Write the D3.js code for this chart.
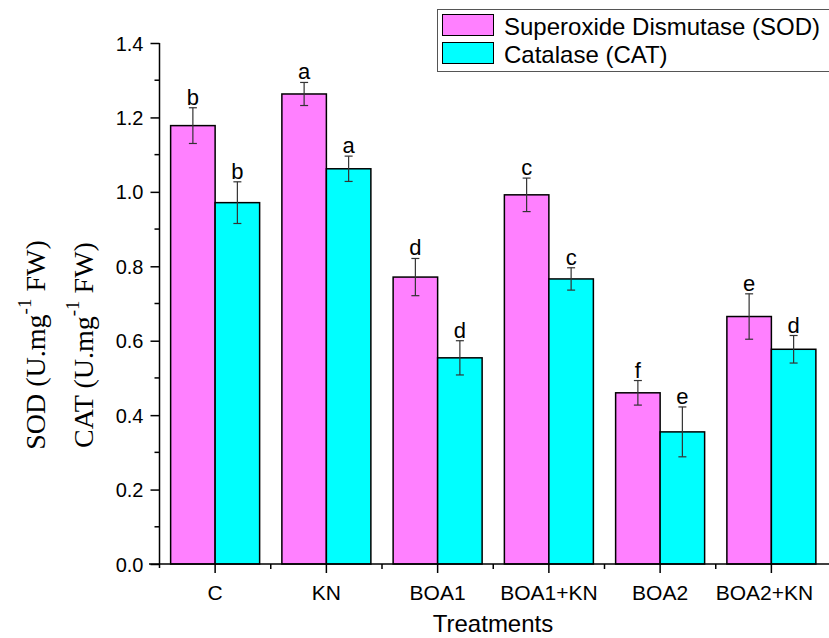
<!DOCTYPE html>
<html>
<head>
<meta charset="utf-8">
<script src="https://cdn.jsdelivr.net/npm/d3@7"></script>
<style>
  body { margin: 0; background: #fff; }
  svg { display: block; }
</style>
</head>
<body>
<div id="root"></div>
<script>
const treatments = ["C", "KN", "BOA1", "BOA1+KN", "BOA2", "BOA2+KN"]
const sodValues = [1.178, 1.263, 0.771, 0.992, 0.460, 0.665]
const sodErrors = [0.048, 0.031, 0.050, 0.045, 0.033, 0.061]
const sodLetters = ["b", "a", "d", "c", "f", "e"]
const catValues = [0.971, 1.062, 0.554, 0.766, 0.355, 0.577]
const catErrors = [0.056, 0.034, 0.046, 0.030, 0.067, 0.037]
const catLetters = ["b", "a", "d", "c", "e", "d"]
const yMajorTicks = [0, 0.2, 0.4, 0.6, 0.8, 1.0, 1.2, 1.4]
const yMinorTicks = [0.1, 0.3, 0.5, 0.7, 0.9, 1.1, 1.3]
const seriesNames = ["Superoxide Dismutase (SOD)", "Catalase (CAT)"]
const seriesColors = ["#ff80ff", "#00ffff"]

function drawChart() {
  const wrapper = { width: 829, height: 638 }
  const plot = { left: 159.5, right: 827, top: 43, bottom: 564 }
  const sans = "Arial, 'Liberation Sans', sans-serif"
  const serif = "'Liberation Serif', 'Times New Roman', serif"

  const svg = d3.select("#root")
    .append("svg")
    .attr("width", wrapper.width)
    .attr("height", wrapper.height)
    .attr("font-family", sans)

  const xScale = d3.scaleBand()
    .domain(treatments)
    .range([plot.left, plot.right])
  const yScale = d3.scaleLinear()
    .domain([0, 1.4])
    .range([plot.bottom, plot.top])

  const barW = xScale.bandwidth() * 0.4
  const series = [
    { values: sodValues, errors: sodErrors, letters: sodLetters, color: seriesColors[0], offset: -barW },
    { values: catValues, errors: catErrors, letters: catLetters, color: seriesColors[1], offset: 0 }
  ]

  const rows = series.flatMap((s, si) => treatments.map((t, i) => ({
    t, si, v: s.values[i], e: s.errors[i], letter: s.letters[i], color: s.color, offset: s.offset
  })))
  const cx = d => xScale(d.t) + xScale.bandwidth() / 2 + d.offset + barW / 2

  // bars
  svg.append("g").selectAll("rect")
    .data(rows)
    .join("rect")
    .attr("x", d => xScale(d.t) + xScale.bandwidth() / 2 + d.offset)
    .attr("y", d => yScale(d.v))
    .attr("width", barW)
    .attr("height", d => yScale(0) - yScale(d.v))
    .attr("fill", d => d.color)
    .attr("stroke", "#000")
    .attr("stroke-width", 1.5)

  // error bars
  const err = svg.append("g").attr("stroke", "#333").attr("stroke-width", 1.2)
  err.selectAll("line.v").data(rows).join("line").attr("class", "v")
    .attr("x1", cx).attr("x2", cx)
    .attr("y1", d => yScale(d.v + d.e)).attr("y2", d => yScale(d.v - d.e))
  err.selectAll("line.t").data(rows).join("line").attr("class", "t")
    .attr("x1", d => cx(d) - 4).attr("x2", d => cx(d) + 4)
    .attr("y1", d => yScale(d.v + d.e)).attr("y2", d => yScale(d.v + d.e))
  err.selectAll("line.b").data(rows).join("line").attr("class", "b")
    .attr("x1", d => cx(d) - 4).attr("x2", d => cx(d) + 4)
    .attr("y1", d => yScale(d.v - d.e)).attr("y2", d => yScale(d.v - d.e))

  // significance letters
  svg.append("g").selectAll("text")
    .data(rows)
    .join("text")
    .attr("x", cx)
    .attr("y", d => yScale(d.v + d.e) - 3)
    .attr("text-anchor", "middle")
    .attr("font-size", 22)
    .text(d => d.letter)

  // y axis
  const yAxis = svg.append("g")
    .attr("transform", `translate(${plot.left},0)`)
    .call(d3.axisLeft(yScale).tickValues(yMajorTicks).tickSize(9).tickSizeOuter(0).tickFormat(d3.format(".1f")))
  yAxis.selectAll(".tick text")
    .attr("font-size", 20).attr("font-family", sans).attr("fill", "#000")
    .attr("x", -16).attr("dy", "0.35em")
  yAxis.append("g").selectAll("line")
    .data(yMinorTicks)
    .join("line")
    .attr("x1", -5).attr("x2", 0)
    .attr("y1", d => yScale(d)).attr("y2", d => yScale(d))
    .attr("stroke", "#000")
  yAxis.select(".domain").attr("d", `M0,${plot.top}V${plot.bottom + 4}`)
  yAxis.selectAll("path, line").attr("stroke-width", 1.5)

  // x axis
  const xAxis = svg.append("g")
    .attr("transform", `translate(0,${plot.bottom})`)
    .call(d3.axisBottom(xScale).tickSize(9).tickSizeOuter(0))
  xAxis.selectAll(".tick text")
    .attr("font-size", 21).attr("font-family", sans).attr("fill", "#000")
    .attr("y", 36).attr("dy", 0)
    .attr("x", (d, i) => i === treatments.length - 1 ? -7 : 0)
  xAxis.append("g").selectAll("line")
    .data(treatments.slice(1))
    .join("line")
    .attr("x1", d => xScale(d)).attr("x2", d => xScale(d))
    .attr("y1", 0).attr("y2", 5)
    .attr("stroke", "#000")
  xAxis.select(".domain").attr("d", `M149,0H${wrapper.width}`)
  xAxis.selectAll("path, line").attr("stroke-width", 1.5)

  svg.append("text")
    .attr("x", 493)
    .attr("y", 632)
    .attr("text-anchor", "middle")
    .attr("font-size", 24)
    .text("Treatments")

  // y axis title, two lines
  const yTitles = [["SOD", 45], ["CAT", 93]]
  yTitles.forEach(([name, x]) => {
    const t = svg.append("text")
      .attr("transform", `translate(${x},345) rotate(-90)`)
      .attr("text-anchor", "middle")
      .attr("font-family", serif)
      .attr("font-size", 28)
    t.append("tspan").text(`${name} (U.mg`)
    t.append("tspan").attr("font-size", 19).attr("dy", -14).text("-1")
    t.append("tspan").attr("dy", 14).text(" FW)")
  })

  // legend
  const legend = svg.append("g")
  legend.append("rect")
    .attr("x", 437.5).attr("y", 9.5)
    .attr("width", 420).attr("height", 62)
    .attr("fill", "#fff")
    .attr("stroke", "#555")
  seriesNames.forEach((name, i) => {
    legend.append("rect")
      .attr("x", 442.5).attr("y", i === 0 ? 14.5 : 42.5)
      .attr("width", 51).attr("height", 21)
      .attr("fill", seriesColors[i])
      .attr("stroke", "#000")
    legend.append("text")
      .attr("x", 504).attr("y", i === 0 ? 35 : 63)
      .attr("font-size", 24)
      .text(name)
  })
}

drawChart()
</script>
</body>
</html>
